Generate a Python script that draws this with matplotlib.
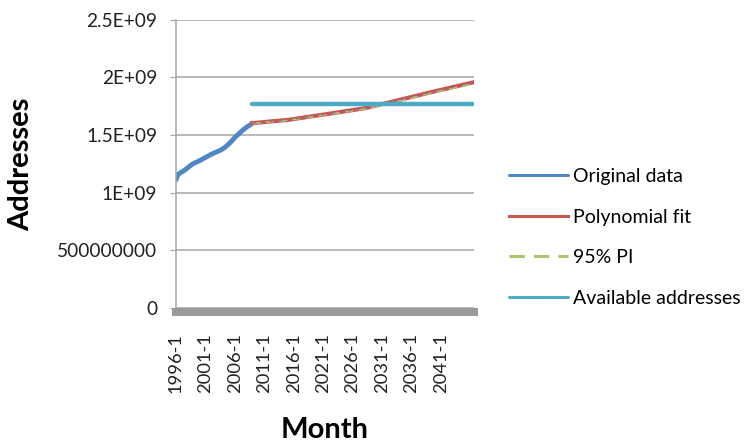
import matplotlib
matplotlib.use("Agg")
import matplotlib.pyplot as plt

plt.rcParams['font.family'] = ['Lato', 'DejaVu Sans']

# month index 0 = 1996-1
tick_positions = [0, 60, 120, 180, 240, 300, 360, 420, 480, 540]
tick_labels = ["1996-1", "2001-1", "2006-1", "2011-1", "2016-1",
               "2021-1", "2026-1", "2031-1", "2036-1", "2041-1"]
last_month = 608

orig_months = [0, 3, 7, 14, 21, 28, 34, 42, 51, 60, 72, 82, 92, 99, 106, 113, 120, 128, 137, 144, 150, 156]
orig_values = [1.113e9, 1.150e9, 1.168e9, 1.185e9, 1.206e9, 1.230e9, 1.250e9, 1.265e9, 1.284e9,
               1.305e9, 1.333e9, 1.352e9, 1.371e9, 1.390e9, 1.415e9, 1.445e9, 1.478e9, 1.510e9,
               1.545e9, 1.568e9, 1.585e9, 1.603e9]

fit_months = [156, 230, 310, 386, 442, 524, 608]
fit_values = [1.603e9, 1.632e9, 1.683e9, 1.733e9, 1.790e9, 1.875e9, 1.958e9]
pi_values = [1.600e9, 1.628e9, 1.678e9, 1.727e9, 1.782e9, 1.866e9, 1.947e9]

avail_months = [156, 608]
avail_values = [1.771e9, 1.771e9]

fig = plt.figure(figsize=(7.44, 4.42), dpi=100)
ax = fig.add_axes([176/744, 1-308/442, (474-176)/744, (308-19.7)/442])

grid_c = '#a6a6a6'
ax.set_ylim(0, 2.5e9)
ax.set_xlim(0, last_month)
ax.set_yticks([0, 5e8, 1e9, 1.5e9, 2e9, 2.5e9])
ax.set_yticklabels(["0", "500000000", "1E+09", "1.5E+09", "2E+09", "2.5E+09"])
ax.yaxis.grid(True, color=grid_c, linewidth=1.1)
ax.set_axisbelow(True)
for s in ['top', 'right']:
    ax.spines[s].set_visible(False)
ax.spines['left'].set_color(grid_c)
ax.spines['left'].set_linewidth(1.1)
ax.spines['bottom'].set_color('#999999')
ax.spines['bottom'].set_linewidth(5.8)
ax.spines['bottom'].set_position(('outward', 3))
ax.tick_params(axis='y', length=4.5, color=grid_c, labelsize=13.8, labelcolor='#222222', pad=9)
ax.set_xticks(tick_positions)
ax.set_xticklabels(tick_labels, rotation=90)
ax.tick_params(axis='x', length=0, labelsize=13.2, labelcolor='#222222', pad=15)

ax.plot(orig_months, orig_values, color='#4f86c6', lw=3.5, solid_capstyle='round', label='Original data')
ax.plot(fit_months, fit_values, color='#cc5552', lw=3.0, label='Polynomial fit')
ax.plot(fit_months, pi_values, color='#a9c56b', lw=1.2, ls=(0, (5, 3)), label='95% PI')
ax.plot(fit_months, fit_values, color='#8064a2', lw=0.9, ls=(0, (3, 4)), alpha=0.7)
ax.plot(avail_months, avail_values, color='#4bacc6', lw=3.2, solid_capstyle='round', label='Available addresses')

ax.set_xlabel("Month", fontsize=21, fontweight='bold', labelpad=17)
ax.set_ylabel("Addresses", fontsize=21, fontweight='bold')
ax.yaxis.set_label_coords(-0.475, 0.5)

leg = ax.legend(loc='center left', bbox_to_anchor=(1.06, 0.245), frameon=False,
                fontsize=14, handlelength=3.0, handletextpad=0.28, labelspacing=1.22)
for h in leg.get_lines():
    h.set_linewidth(2.2)

fig.savefig("out.png", dpi=100)
